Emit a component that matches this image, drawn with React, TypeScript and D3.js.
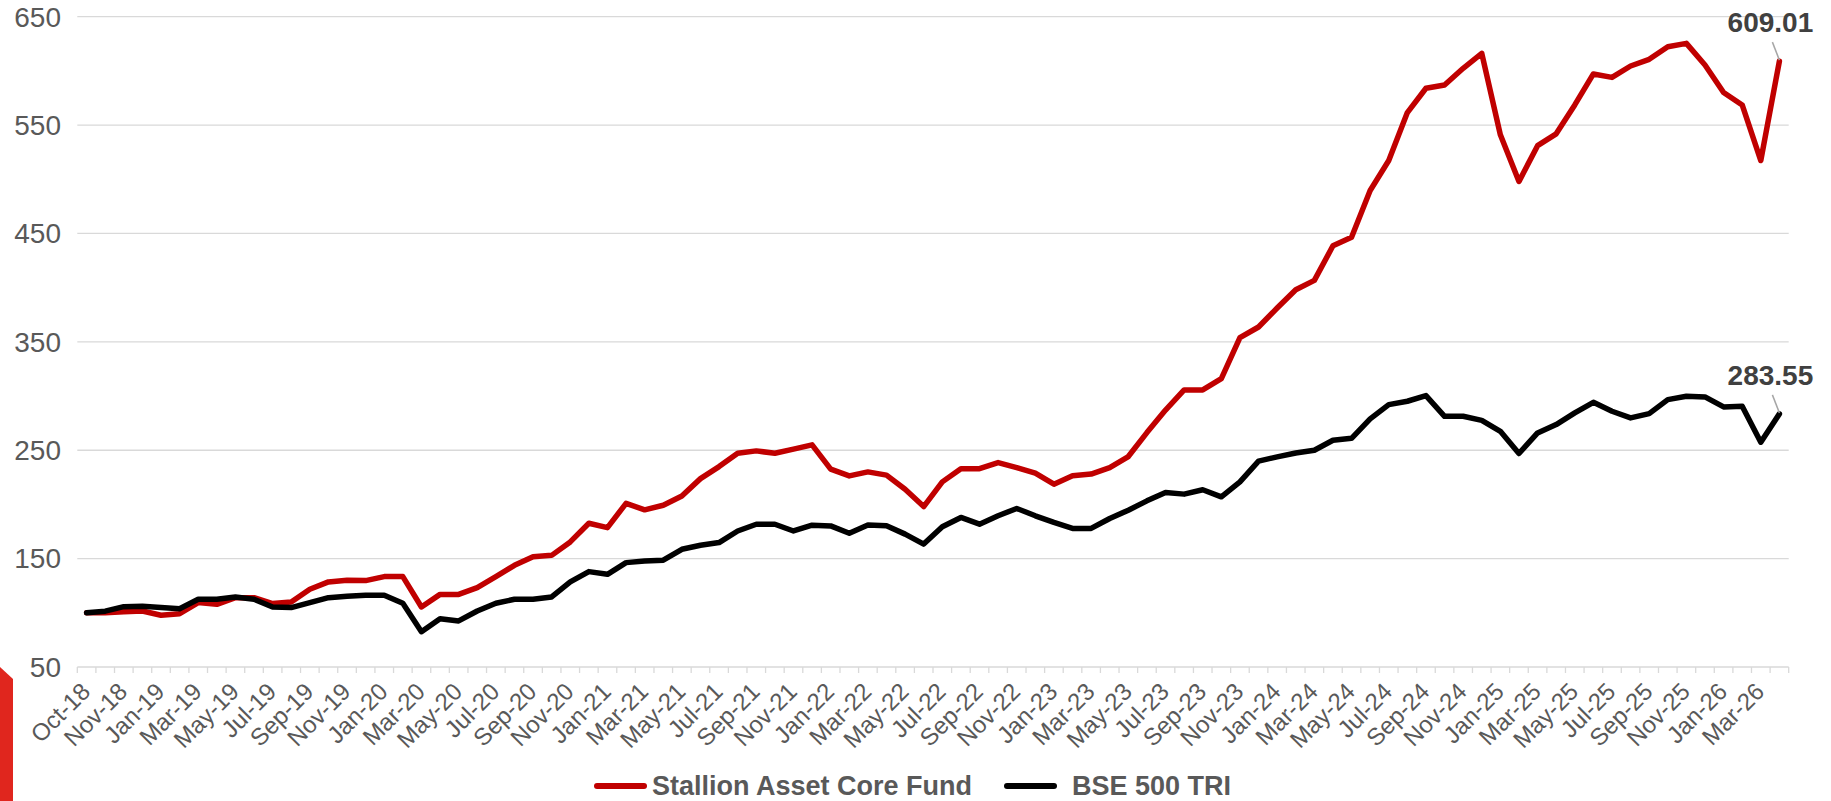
import React from "react";
import * as d3 from "d3";

const categories: string[] = [
  "Oct-18","Oct-18","Nov-18","Dec-18","Jan-19","Feb-19","Mar-19","Apr-19","May-19","Jun-19","Jul-19","Aug-19","Sep-19","Oct-19","Nov-19","Dec-19",
  "Jan-20","Feb-20","Mar-20","Apr-20","May-20","Jun-20","Jul-20","Aug-20","Sep-20","Oct-20","Nov-20","Dec-20",
  "Jan-21","Feb-21","Mar-21","Apr-21","May-21","Jun-21","Jul-21","Aug-21","Sep-21","Oct-21","Nov-21","Dec-21",
  "Jan-22","Feb-22","Mar-22","Apr-22","May-22","Jun-22","Jul-22","Aug-22","Sep-22","Oct-22","Nov-22","Dec-22",
  "Jan-23","Feb-23","Mar-23","Apr-23","May-23","Jun-23","Jul-23","Aug-23","Sep-23","Oct-23","Nov-23","Dec-23",
  "Jan-24","Feb-24","Mar-24","Apr-24","May-24","Jun-24","Jul-24","Aug-24","Sep-24","Oct-24","Nov-24","Dec-24",
  "Jan-25","Feb-25","Mar-25","Apr-25","May-25","Jun-25","Jul-25","Aug-25","Sep-25","Oct-25","Nov-25","Dec-25",
  "Jan-26","Feb-26","Mar-26","Apr-26"
];

const fundValues: number[] = [
  100, 100, 101, 101.7, 97.7, 99.2, 109.4, 107.8, 114, 114, 108.5, 110, 121.7, 128.5, 130, 129.7, 133.4, 133.4,
  105.4, 117, 117, 123.2, 133.4, 143.8, 151.8, 153, 165.4, 182.6, 178.6, 201, 195, 199.2, 207.8, 223.8, 234.9,
  247.2, 249.4, 247.2, 251, 255, 232.5, 226.3, 230, 227, 214, 198, 220.8, 233, 233, 238.6, 234, 228.8, 218.7,
  226.4, 228, 234, 244.2, 266.3, 287.1, 305.6, 305.6, 316, 353.8, 363.7, 381.2, 398, 406.7, 438.6, 446.6, 489.6,
  517.3, 561.5, 584, 587, 602.4, 616.2, 541, 498, 531, 541.9, 568.6, 597.2, 594, 604.5, 610.7, 622.3, 625.4,
  605.5, 580, 568.6, 517.3, 609.01
];

const benchValues: number[] = [
  100, 101.5, 105.7, 106, 104.8, 103.8, 112.5, 112.5, 114.6, 112.5, 105.4, 104.8, 109.4, 114, 115.2, 116.2, 116.2,
  108.8, 82.6, 94.6, 92.5, 101.7, 108.8, 112.5, 112.5, 114.6, 128.5, 138, 135.5, 146.3, 147.8, 148.5, 158.6, 162.3,
  164.8, 175.5, 181.7, 181.7, 175.5, 180.8, 180.2, 173.4, 181, 180.3, 172.6, 163.4, 179.4, 188, 181.8, 189.5, 196.3,
  189.5, 183.4, 177.9, 177.9, 187, 194.7, 203.3, 211, 209.5, 213.5, 207, 220.8, 239.9, 243.9, 247.5, 250, 259.2,
  261, 278.9, 292.1, 295.2, 300.4, 281.3, 281.3, 277.6, 267.5, 247, 266, 273.7, 284.4, 294.2, 286, 279.8, 283.8,
  296.7, 299.8, 299.2, 290, 290.6, 257.4, 283.55
];

const yTicks: number[] = [50, 150, 250, 350, 450, 550, 650];
const seriesNames: string[] = ["Stallion Asset Core Fund", "BSE 500 TRI"];
const seriesColors: string[] = ["#C00000", "#000000"];

const FONT = "'Liberation Sans', Arial, sans-serif";

export default function App() {
  const W = 1831, H = 801;
  const left = 77.3, right = 1788.7, top = 16.7, bottom = 667;
  const idx = categories.map((_, i) => i);
  const x = d3.scaleBand<number>().domain(idx).range([left, right]).paddingInner(0).paddingOuter(0);
  const bw = x.bandwidth();
  const cx = (i: number) => (x(i) as number) + bw / 2;
  const y = d3.scaleLinear().domain([50, 650]).range([bottom, top]);
  const line = d3.line<number>().x((_, i) => cx(i)).y((d) => y(d));
  const series = [fundValues, benchValues];
  const lastI = categories.length - 1;
  const boundaries = d3.range(categories.length + 1).map((k) => left + k * bw);
  const legendLineX = [597, 1007];
  const legendTextGap = [55, 65];

  return (
    <svg width={W} height={H} style={{ position: "absolute", left: 0, top: 0, background: "#fff" }} fontFamily={FONT}>
      <rect x={0} y={0} width={W} height={H} fill="#fff" />
      <polygon points={`0,667 13,679 13,${H} 0,${H}`} fill="#E0261E" />
      {yTicks.map((t) => (
        <line key={t} x1={left} x2={right} y1={y(t)} y2={y(t)} stroke="#D9D9D9" strokeWidth={t === 50 ? 1.6 : 1.3} />
      ))}
      {yTicks.map((t) => (
        <text key={"yl" + t} x={61} y={y(t)} dy="0.35em" textAnchor="end" fontSize={28} fill="#595959">
          {t}
        </text>
      ))}
      {boundaries.map((bx, k) => (
        <line key={"tk" + k} x1={bx} x2={bx} y1={bottom} y2={bottom + 6} stroke="#D9D9D9" strokeWidth={1.3} />
      ))}
      {categories.map((c, i) =>
        i % 2 === 0 ? (
          <text
            key={"xl" + i}
            transform={`translate(${cx(i) + 5},${bottom + 26}) rotate(-45)`}
            textAnchor="end"
            fontSize={24}
            fill="#595959"
          >
            {c}
          </text>
        ) : null
      )}
      {series.map((s, k) => (
        <path
          key={"s" + k}
          d={line(s) || ""}
          fill="none"
          stroke={seriesColors[k]}
          strokeWidth={5.5}
          strokeLinejoin="round"
          strokeLinecap="round"
        />
      ))}
      {series.map((s, k) => {
        const px = cx(lastI);
        const py = y(s[lastI]);
        return (
          <g key={"lab" + k}>
            <line x1={px - 7} y1={py - 19} x2={px} y2={py - 1} stroke="#A6A6A6" strokeWidth={1.5} />
            <text x={px - 9} y={py - 29} textAnchor="middle" fontSize={28} fontWeight="bold" fill="#404040">
              {s[lastI].toFixed(2)}
            </text>
          </g>
        );
      })}
      {seriesNames.map((n, k) => {
        const lx = legendLineX[k];
        const ly = 786;
        return (
          <g key={"lg" + k}>
            <line x1={lx} x2={lx + 47} y1={ly} y2={ly} stroke={seriesColors[k]} strokeWidth={6} strokeLinecap="round" />
            <text x={lx + legendTextGap[k]} y={ly} dy="0.35em" fontSize={27} fontWeight="bold" fill="#595959">
              {n}
            </text>
          </g>
        );
      })}
    </svg>
  );
}
